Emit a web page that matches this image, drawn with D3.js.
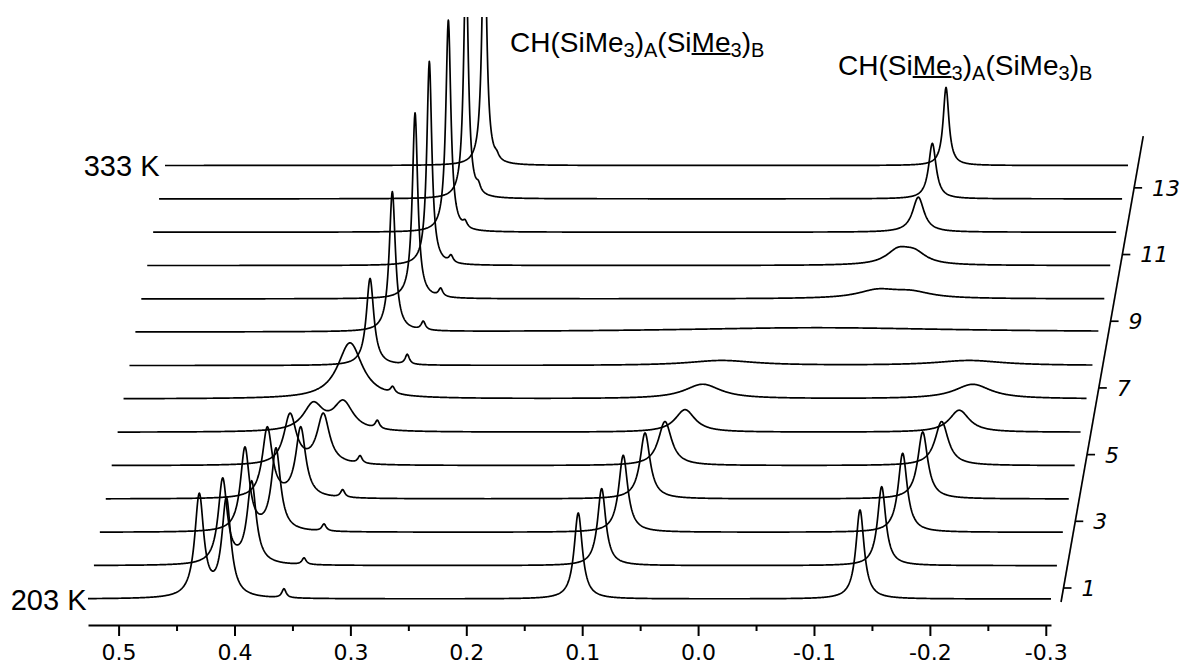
<!DOCTYPE html>
<html>
<head>
<meta charset="utf-8">
<script src="https://cdn.jsdelivr.net/npm/d3@7"></script>
<style>
  body { margin: 0; background: #fff; }
  svg { display: block; }
</style>
</head>
<body>
<div class="chart"></div>
<script>
var svgWidth = 1181;
var svgHeight = 664;

// spectra on the depth axis, bottom (203 K) to top (333 K)
var spectra = [1, 2, 3, 4, 5, 6, 7, 8, 9, 10, 11, 12, 13, 14];
var tempSpectra = [1, 14];
var tempLabels = ["203 K", "333 K"];

var ppmTicks = [0.5, 0.4, 0.3, 0.2, 0.1, 0.0, -0.1, -0.2, -0.3];
var ppmMinorTicks = [0.45, 0.35, 0.25, 0.15, 0.05, -0.05, -0.15, -0.25];
var depthTicks = [1, 3, 5, 7, 9, 11, 13];

var signalLabels = [
  "CH(SiMe<sub>3</sub>)<sub>A</sub>(Si<u>Me</u><sub>3</sub>)<sub>B</sub>",
  "CH(Si<u>Me</u><sub>3</sub>)<sub>A</sub>(SiMe<sub>3</sub>)<sub>B</sub>"
];

// peaks: [shift (ppm), height (a.u.), half width (ppm)]
// left SiMe3 signals
var peaksB = [
  [[0.4304, 102, 0.0047], [0.4070, 98, 0.0047]],
  [[0.4153, 85, 0.0047], [0.3903, 82, 0.0047]],
  [[0.4012, 83, 0.0047], [0.3744, 82, 0.0047]],
  [[0.3870, 70, 0.0052], [0.3582, 70, 0.0052]],
  [[0.3725, 50, 0.0065], [0.3438, 50, 0.0065]],
  [[0.3576, 26.5, 0.0104], [0.3317, 28.5, 0.0104]],
  [[0.3310, 56, 0.0129]],
  [[0.3188, 87, 0.0039]],
  [[0.3047, 140, 0.0032]],
  [[0.2902, 186, 0.0028]],
  [[0.2830, 204, 0.0026]],
  [[0.2717, 212, 0.0026]],
  [[0.2616, 240, 0.0024]],
  [[0.2509, 260, 0.0023]]
];
// right SiMe3 signals
var peaksA = [
  [[0.1034, 86, 0.0043], [-0.1397, 89, 0.0043]],
  [[0.0883, 77, 0.0043], [-0.1533, 79, 0.0043]],
  [[0.0748, 77, 0.0047], [-0.1663, 79, 0.0047]],
  [[0.0611, 66, 0.0052], [-0.1785, 67, 0.0052]],
  [[0.0490, 44, 0.0069], [-0.1897, 44, 0.0069]],
  [[0.0368, 22.5, 0.0104], [-0.1998, 22, 0.0104]],
  [[0.0267, 14.5, 0.019], [-0.2063, 14.5, 0.019]],
  [[0.0154, 5, 0.035], [-0.1982, 5, 0.035]],
  [[-0.0615, 4.5, 0.147]],
  [[-0.1090, 8, 0.021], [-0.1380, 6, 0.021]],
  [[-0.1215, 13.5, 0.0125], [-0.1355, 11, 0.0125]],
  [[-0.1338, 35, 0.006]],
  [[-0.1408, 55.5, 0.0039]],
  [[-0.1475, 78, 0.003]]
];
// small CH signal
var peaksCH = [
  [0.3573, 9, 0.0022],
  [0.3451, 6.5, 0.0022],
  [0.3330, 7, 0.0022],
  [0.3220, 7.5, 0.0022],
  [0.3121, 7.5, 0.0022],
  [0.3023, 8, 0.0022],
  [0.2942, 6.5, 0.0022],
  [0.2867, 10, 0.0022],
  [0.2780, 8.5, 0.0022],
  [0.2681, 8, 0.0022],
  [0.2643, 7, 0.0022],
  [0.2573, 6, 0.0022],
  [0.2509, 7, 0.0022],
  [0.2402, 4, 0.0022]
];

var svg = d3.select(".chart")
  .append("svg")
  .attr("width", svgWidth)
  .attr("height", svgHeight);

// scales
var x = d3.scaleLinear().domain([0.5264, -0.3045]).range([88, 1051]);
var depthBase = d3.scaleLinear().domain([1, 14]).range([599, 165.5]);
var depthShift = d3.scaleLinear().domain([1, 14]).range([0, 77]);
var yInt = d3.scaleLinear().domain([0, 250]).range([0, 250]);
var depthY = d3.scaleLinear().domain([1, 14]).range([588, 154.5]);
var depthX = d3.scaleLinear().domain([1, 14]).range([1063.5, 1140]);

svg.append("defs").append("clipPath")
  .attr("id", "plotClip")
  .append("rect")
  .attr("x", 0).attr("y", 17)
  .attr("width", svgWidth).attr("height", svgHeight - 17);

// Lorentzian line shape from the peak list of one spectrum
function spectrumPoints(n) {
  var peaks = peaksB[n - 1].concat(peaksA[n - 1], [peaksCH[n - 1]]);
  var lo = x.domain()[1], hi = x.domain()[0];
  var grid = d3.range(lo, hi, 0.0004).concat([hi], peaks.map(p => p[0]));
  grid.sort(d3.ascending);
  return grid.map(function(s) {
    return [s, d3.sum(peaks, p => p[1] / (1 + Math.pow((s - p[0]) / p[2], 2)))];
  });
}

var traceGroup = svg.append("g").attr("clip-path", "url(#plotClip)");

spectra.forEach(function(n) {
  var line = d3.line()
    .x(d => x(d[0]) + depthShift(n))
    .y(d => depthBase(n) - yInt(d[1]));
  traceGroup.append("path")
    .datum(spectrumPoints(n))
    .attr("d", line)
    .attr("fill", "none")
    .attr("stroke", "#000")
    .attr("stroke-width", 1.7)
    .attr("stroke-linejoin", "round");
});

// temperature labels at the start of first and last spectrum
tempSpectra.forEach(function(n, i) {
  svg.append("text")
    .attr("x", x.range()[0] + depthShift(n) - (n === 1 ? 1.5 : 5.5))
    .attr("y", depthBase(n) + 10.5)
    .attr("text-anchor", "end")
    .attr("font-family", "'Liberation Sans', Arial, sans-serif")
    .attr("font-size", 29)
    .attr("fill", "#000")
    .text(tempLabels[i]);
});

// bottom ppm axis
var fmt = d3.format(".1f");
var xAxis = svg.append("g")
  .attr("transform", "translate(0,625)")
  .call(d3.axisBottom(x)
    .tickValues(ppmTicks)
    .tickSize(11)
    .tickSizeOuter(0)
    .tickFormat(d => fmt(d).replace("\u2212", "-")));
xAxis.select(".domain").attr("stroke-width", 2);
xAxis.selectAll(".tick line").attr("stroke-width", 2);
xAxis.selectAll(".tick text")
  .attr("y", 35)
  .attr("dy", 0)
  .attr("fill", "#000")
  .attr("font-family", "'DejaVu Sans', Verdana, sans-serif")
  .attr("font-size", 22);

var minorAxis = svg.append("g")
  .attr("transform", "translate(0,625)")
  .call(d3.axisBottom(x).tickValues(ppmMinorTicks).tickSize(6).tickFormat(""));
minorAxis.select(".domain").remove();
minorAxis.selectAll(".tick line").attr("stroke-width", 2);

// slanted depth axis on the right
var depthAxis = svg.append("g");
depthAxis.append("line")
  .attr("x1", depthX(0.58)).attr("y1", depthY(0.58))
  .attr("x2", depthX(14.55)).attr("y2", depthY(14.55))
  .attr("stroke", "#000")
  .attr("stroke-width", 1.7);

depthAxis.selectAll(".dtick")
  .data(depthTicks)
  .enter()
  .append("line")
  .attr("x1", d => depthX(d))
  .attr("x2", d => depthX(d) + 8)
  .attr("y1", d => depthY(d))
  .attr("y2", d => depthY(d))
  .attr("stroke", "#000")
  .attr("stroke-width", 1.7);

depthAxis.selectAll(".dlabel")
  .data(depthTicks)
  .enter()
  .append("text")
  .attr("x", d => depthX(d) + 18)
  .attr("y", d => depthY(d))
  .attr("dy", "0.36em")
  .attr("font-family", "'DejaVu Sans', Verdana, sans-serif")
  .attr("font-style", "italic")
  .attr("font-size", 22)
  .attr("fill", "#000")
  .text(d => d);

// signal assignment labels (subscripts and underline)
function drawFormula(str, x0, y0) {
  var t = svg.append("text")
    .attr("x", x0)
    .attr("y", y0)
    .attr("font-family", "'Liberation Sans', Arial, sans-serif")
    .attr("font-size", 28)
    .attr("fill", "#000");
  var sub = false, und = false, marked = [];
  str.split(/(<\/?(?:sub|u)>)/).forEach(function(tok) {
    if (tok === "<sub>") { sub = true; return; }
    if (tok === "</sub>") { sub = false; return; }
    if (tok === "<u>") { und = true; return; }
    if (tok === "</u>") { und = false; return; }
    if (!tok) return;
    var ts = t.append("tspan")
      .attr("y", sub ? y0 + 5 : y0)
      .attr("font-size", sub ? 20 : 28)
      .text(tok);
    if (und) marked.push(ts.node());
  });
  marked.forEach(function(node) {
    var n = node.getNumberOfChars();
    var xa = node.getStartPositionOfChar(0).x;
    var xb = node.getEndPositionOfChar(n - 1).x;
    svg.append("line")
      .attr("x1", xa).attr("x2", xb)
      .attr("y1", y0 + 2).attr("y2", y0 + 2)
      .attr("stroke", "#000")
      .attr("stroke-width", 2);
  });
}

drawFormula(signalLabels[0], 510, 52);
drawFormula(signalLabels[1], 838, 75);
</script>
</body>
</html>
